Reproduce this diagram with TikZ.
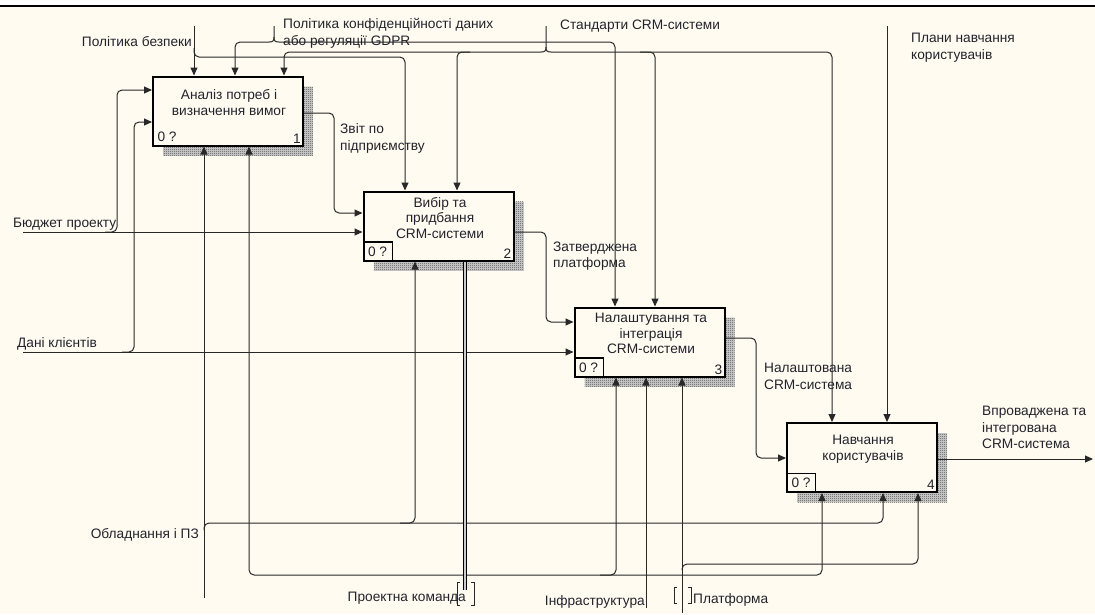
\documentclass[tikz,border=0pt]{standalone}
\usepackage{fontspec}
\setmainfont{Liberation Sans}
\usetikzlibrary{arrows.meta,patterns}
\definecolor{bg}{RGB}{255,251,240}
\definecolor{ink}{RGB}{35,35,45}
\definecolor{wire}{RGB}{40,40,40}
\pgfdeclarepatternformonly{checker}{\pgfpointorigin}{\pgfqpoint{2pt}{2pt}}{\pgfqpoint{2pt}{2pt}}{%
  \pgfpathrectangle{\pgfpointorigin}{\pgfqpoint{1pt}{1pt}}%
  \pgfpathrectangle{\pgfqpoint{1pt}{1pt}}{\pgfqpoint{1pt}{1pt}}%
  \pgfusepath{fill}}
\begin{document}
\begin{tikzpicture}[x=1pt,y=-1pt,
  every node/.style={font=\fontsize{13.7}{16.5}\selectfont, text=ink, inner sep=0pt},
  boxn/.style={draw=black, line width=2pt, fill=bg, minimum width=150pt, minimum height=69pt},
  shad/.style={fill=gray!35, postaction={pattern=checker, pattern color=gray!60!black}},
  arr/.style={draw=wire, line width=1pt, rounded corners=5pt, -{Triangle[length=8pt,width=7pt]}},
  ln/.style={draw=wire, line width=1pt},
  lbl/.style={anchor=west, align=left},
  lblr/.style={anchor=east, align=right},
  btxt/.style={align=center, font=\fontsize{13.7}{15.5}\selectfont},
  numbox/.style={anchor=south west, minimum width=29pt, minimum height=19pt, line width=1.2pt},
  numr/.style={anchor=south east, inner sep=3pt},
  tun/.style={draw=wire, line width=1pt}
  ]
\useasboundingbox (0,0) rectangle (1095,614);
\fill[white] (0,0) rectangle (1095,6);
\fill[bg] (0,6) rectangle (1095,614);
\draw[line width=1.5pt, black] (0,6) -- (1095,6);

% shadows
\path[shad] (163,86.5) rectangle (313,155.5);
\path[shad] (373.5,201.5) rectangle (523.5,270.5);
\path[shad] (584.5,317.5) rectangle (734.5,386.5);
\path[shad] (797,433) rectangle (947,502);

% boxes
\node[boxn] (b1) at (228,111) {};
\node[boxn] (b2) at (438.5,226) {};
\node[boxn] (b3) at (649.5,342) {};
\node[boxn] (b4) at (862,457.5) {};

\node[btxt] (t1) at (229,102.5) {Аналіз потреб і\\визначення вимог};
\node[btxt] (t2) at (440,218) {Вибір та\\придбання\\CRM-системи};
\node[btxt] (t3) at (651,333.5) {Налаштування та\\інтеграція\\CRM-системи};
\node[btxt] (t4) at (863,449) {Навчання\\користувачів};

\node[numbox] (k1) at (b1.south west) {0 ?};
\node[numbox, draw=black] (k2) at (b2.south west) {0 ?};
\node[numbox, draw=black] (k3) at (b3.south west) {0 ?};
\node[numbox, draw=black] (k4) at (b4.south west) {0 ?};
\node[numr] (m1) at (b1.south east) {1};
\node[numr] (m2) at (b2.south east) {2};
\node[numr] (m3) at (b3.south east) {3};
\node[numr] (m4) at (b4.south east) {4};

% source / end coordinates
\coordinate (pbS) at (194,26);
\coordinate (pkS) at (274,26);
\coordinate (stS) at (546,26);
\coordinate (pnS) at (887,26);
\coordinate (bjS) at (23,232);
\coordinate (dkS) at (23,352);
\coordinate (obS) at (204,598);
\coordinate (pkmS) at (465,590);
\coordinate (infS) at (646,608);
\coordinate (plS) at (682,613);
\coordinate (outE) at (1093,459);

% Політика безпеки
\draw[arr] (pbS) -- (pbS |- b1.north);
\draw[arr] (194,48) -- (194,57) -- (405,57) -- (405,57 |- b2.north);

% Політика конфіденційності
\draw[ln] (pkS) -- (274,37) .. controls (274,41) and (273,42) .. (269,42);
\draw[ln] (274,37) .. controls (274,41) and (275,42) .. (279,42);
\draw[arr] (269,42) -- (235,42) -- (235,42 |- b1.north);
\draw[arr] (279,42) -- (615,42) -- (615,42 |- b3.north);

% Стандарти CRM-системи
\draw[ln] (stS) -- (546,47) .. controls (546,51) and (545,52) .. (541,52);
\draw[ln] (546,47) .. controls (546,51) and (547,52) .. (551,52);
\draw[arr] (541,52) -- (284,52) -- (284,52 |- b1.north);
\draw[arr] (470,52) -- (457,52) -- (457,52 |- b2.north);
\draw[arr] (551,52) -- (832,52) -- (832,52 |- b4.north);
\draw[arr] (640,52) -- (655,52) -- (655,52 |- b3.north);

% Плани навчання
\draw[arr] (pnS) -- (pnS |- b4.north);

% Бюджет проекту
\draw[arr] (bjS) -- (bjS -| b2.west);
\draw[arr] (105,232) -- (117,232) -- (117,90) -- (117,90 -| b1.west);

% Дані клієнтів
\draw[arr] (dkS) -- (dkS -| b3.west);
\draw[arr] (122,352) -- (134,352) -- (134,122) -- (134,122 -| b1.west);

% outputs
\draw[arr] (b1.east |- 0,113) -- (334,113) -- (334,213) -- (334,213 -| b2.west);
\draw[arr] (b2.east |- 0,232) -- (546,232) -- (546,322) -- (546,322 -| b3.west);
\draw[arr] (b3.east |- 0,338) -- (756,338) -- (756,458) -- (756,458 -| b4.west);
\draw[arr] (b4.east |- 0,459) -- (outE);

% Обладнання і ПЗ
\draw[arr] (obS) -- (obS |- b1.south);
\draw[arr] (204,530) -- (204,523) -- (415,523) -- (415,523 |- b2.south);
\draw[arr] (400,523) -- (883,523) -- (883,523 |- b4.south);

% Проектна команда
\draw[arr] (465,575) -- (249,575) -- (249,575 |- b1.south);
\draw[arr] (465,575) -- (822,575) -- (822,575 |- b4.south);
\draw[arr] (600,575) -- (616,575) -- (616,575 |- b3.south);
\draw[line width=1.8pt, draw=black, double=gray!40, double distance=1.2pt] (pkmS) -- (pkmS |- b2.south);
\draw[tun] (460,582) -- (457,582) -- (457,605) -- (460,605);
\draw[tun] (471,582) -- (474,582) -- (474,605) -- (471,605);

% Інфраструктура
\draw[arr] (infS) -- (infS |- b3.south);

% Платформа
\draw[arr] (plS) -- (plS |- b3.south);
\draw[arr] (682,570) -- (682,564) -- (918,564) -- (918,564 |- b4.south);
\draw[tun] (677,587) -- (674,587) -- (674,603) -- (677,603);
\draw[tun] (688,587) -- (691,587) -- (691,603) -- (688,603);

% labels
\node[lblr] (lpb) at (192,42) {Політика безпеки};
\node[lbl] (lpk) at (283,33.5) {Політика конфіденційності даних\\або регуляції GDPR};
\node[lbl] (lst) at (560,26) {Стандарти CRM-системи};
\node[lbl] (lpn) at (911,47.5) {Плани навчання\\користувачів};
\node[lbl] (lbj) at (13,224) {Бюджет проекту};
\node[lbl] (ldk) at (17,344) {Дані клієнтів};
\node[lbl] (lzv) at (340,138.5) {Звіт по\\підприємству};
\node[lbl] (lzt) at (553,256) {Затверджена\\платформа};
\node[lbl] (lnl) at (764,376.5) {Налаштована\\CRM-система};
\node[lbl] (lvp) at (982,427.5) {Впроваджена та\\інтегрована\\CRM-система};
\node[lblr] (lob) at (199,535) {Обладнання і ПЗ};
\node[lblr] (lpkm) at (466,598) {Проектна команда};
\node[lblr] (linf) at (645,602) {Інфраструктура};
\node[lbl] (lpl) at (693,600) {Платформа};
\end{tikzpicture}
\end{document}
